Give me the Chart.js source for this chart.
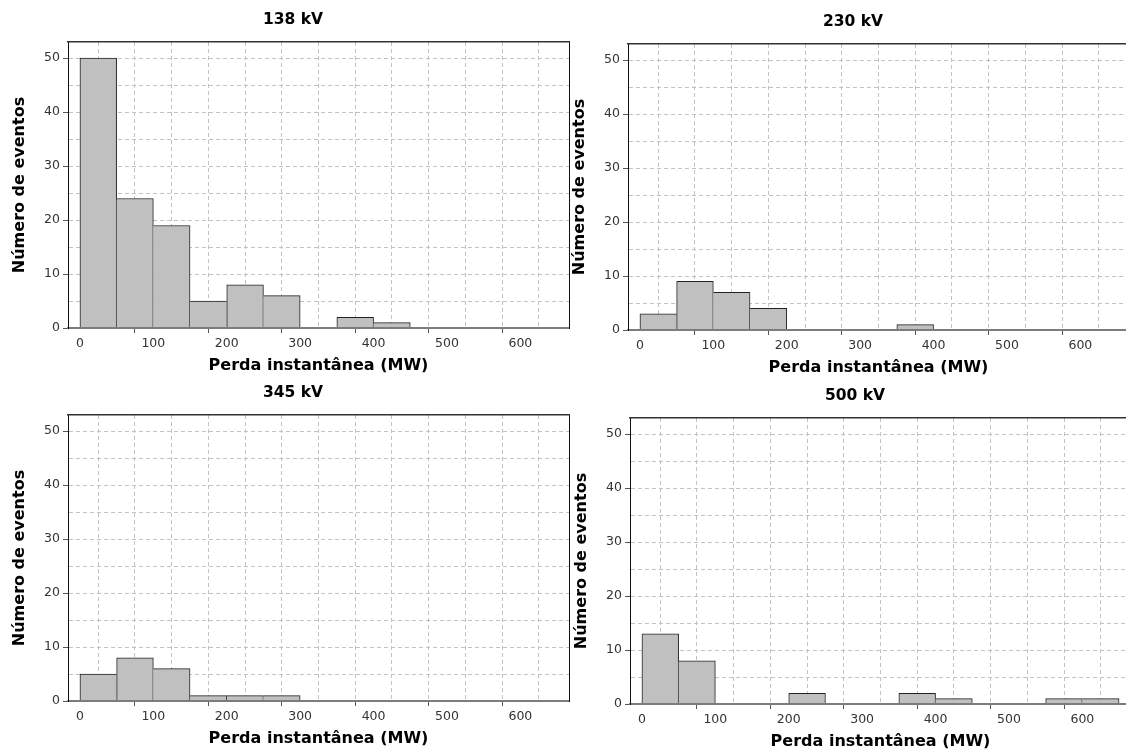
<!DOCTYPE html>
<html lang="pt-BR">
<head>
<meta charset="utf-8">
<title>Perda instantânea por nível de tensão</title>
<script src="https://cdn.jsdelivr.net/npm/chart.js@4.4.1/dist/chart.umd.min.js"></script>
<style>
  html, body { margin: 0; padding: 0; background: #fff; overflow: hidden; }
  #sheet { position: relative; width: 1126px; height: 753px; overflow: hidden; background: #fff; }
  #sheet canvas { position: absolute; }
</style>
</head>
<body>
<div id="sheet">
  <canvas id="c138" width="586" height="378" style="left:0px;top:0px"></canvas>
  <canvas id="c230" width="586" height="378" style="left:560px;top:2px"></canvas>
  <canvas id="c345" width="586" height="378" style="left:0px;top:373px"></canvas>
  <canvas id="c500" width="586" height="378" style="left:562px;top:376px"></canvas>
</div>
<script>
// Histogram bins (MW), 50 MW wide
const binEdges = [0, 50, 100, 150, 200, 250, 300, 350, 400, 450, 500, 550, 600, 650];

// Number of events per bin, one list per voltage level
const counts138 = [50, 24, 19, 5, 8, 6, 0, 2, 1, 0, 0, 0, 0];
const counts230 = [3, 9, 7, 4, 0, 0, 0, 1, 0, 0, 0, 0, 0];
const counts345 = [5, 8, 6, 1, 1, 1, 0, 0, 0, 0, 0, 0, 0];
const counts500 = [13, 8, 0, 0, 2, 0, 0, 2, 1, 0, 0, 1, 1];

// Axis ticks
const xTickLabels = [0, 100, 200, 300, 400, 500, 600];
const yTickLabels = [0, 10, 20, 30, 40, 50];
const xGridValues = [0, 50, 100, 150, 200, 250, 300, 350, 400, 450, 500, 550, 600, 650];
const yGridValues = [0, 5, 10, 15, 20, 25, 30, 35, 40, 45, 50];

const X_MIN = -16.25, X_MAX = 666.25, Y_MIN = 0, Y_MAX = 53;
const FONT = "'DejaVu Sans', Verdana, sans-serif";
const GRID = '#c2c2c2';

// Outline each bar once: shared edges are drawn only by the taller neighbour
function barEdges(counts, i) {
  const c = counts[i];
  if (!c) return 0;
  const prev = i > 0 ? counts[i - 1] : 0;
  const next = i < counts.length - 1 ? counts[i + 1] : 0;
  return { top: 1, bottom: 0, left: prev < c ? 1 : 0, right: next > c ? 0 : 1 };
}

function tickMarkColor(labels) {
  return (ctx) => (ctx.tick && labels.includes(ctx.tick.value)) ? '#555' : 'rgba(0,0,0,0)';
}

function histogram(id, title, counts) {
  const points = counts.map((c, i) => ({ x: (binEdges[i] + binEdges[i + 1]) / 2, y: c }));
  return new Chart(document.getElementById(id), {
    type: 'bar',
    data: {
      datasets: [{
        data: points,
        backgroundColor: '#c0c0c0',
        borderColor: '#222',
        borderWidth: (ctx) => barEdges(counts, ctx.dataIndex),
        borderSkipped: false,
        barPercentage: 1,
        categoryPercentage: 1
      }]
    },
    options: {
      responsive: false,
      animation: false,
      devicePixelRatio: 1,
      layout: { padding: 0 },
      events: [],
      plugins: {
        legend: { display: false },
        tooltip: { enabled: false },
        title: {
          display: true,
          text: title,
          color: '#000',
          font: { family: FONT, size: 15.5, weight: 'bold' },
          padding: { top: 10.7, bottom: 12.7 }
        }
      },
      scales: {
        x: {
          type: 'linear',
          position: 'bottom',
          min: X_MIN,
          max: X_MAX,
          offset: false,
          afterBuildTicks: (s) => { s.ticks = xGridValues.map((v) => ({ value: v })); },
          afterFit: (s) => { s.height = 50; },
          ticks: {
            autoSkip: false,
            maxRotation: 0,
            padding: 3,
            color: '#333',
            font: { family: FONT, size: 12.5 },
            callback: (v) => xTickLabels.includes(v) ? String(v) : ''
          },
          grid: { color: GRID, lineWidth: 1, tickLength: 5, tickWidth: 1, tickColor: tickMarkColor(xTickLabels) },
          border: { display: true, color: '#7c7c7c', width: 2, dash: [4, 3], z: 1 },
          title: {
            display: true,
            text: 'Perda instantânea (MW)',
            color: '#000',
            font: { family: FONT, size: 16, weight: 'bold' },
            padding: { top: 0, bottom: 3 }
          }
        },
        y: {
          type: 'linear',
          position: 'left',
          min: Y_MIN,
          max: Y_MAX,
          afterBuildTicks: (s) => { s.ticks = yGridValues.map((v) => ({ value: v })); },
          afterFit: (s) => { s.width = 68; },
          ticks: {
            autoSkip: false,
            padding: 3,
            color: '#333',
            font: { family: FONT, size: 12.5 },
            callback: (v) => yTickLabels.includes(v) ? String(v) : ''
          },
          grid: { color: GRID, lineWidth: 1, tickLength: 5, tickWidth: 1, tickColor: tickMarkColor(yTickLabels) },
          border: { display: true, color: '#111', width: 1, dash: [4, 3], z: 1 },
          title: {
            display: true,
            text: 'Número de eventos',
            color: '#000',
            font: { family: FONT, size: 16, weight: 'bold' },
            padding: { top: 10.4, bottom: 0 }
          }
        },
        // frame: right and top edges of the plot box
        yFrame: {
          type: 'linear',
          position: 'right',
          min: Y_MIN,
          max: Y_MAX,
          ticks: { display: false },
          grid: { display: false, drawTicks: false },
          border: { display: true, color: '#111', width: 1, z: 1 },
          afterFit: (s) => { s.width = 17; }
        },
        xFrame: {
          type: 'linear',
          position: 'top',
          min: X_MIN,
          max: X_MAX,
          ticks: { display: false },
          grid: { display: false, drawTicks: false },
          border: { display: true, color: '#333', width: 1.5, z: 1 },
          afterFit: (s) => { s.height = 0; }
        }
      }
    }
  });
}

histogram('c138', '138 kV', counts138);
histogram('c230', '230 kV', counts230);
histogram('c345', '345 kV', counts345);
histogram('c500', '500 kV', counts500);
</script>
</body>
</html>
